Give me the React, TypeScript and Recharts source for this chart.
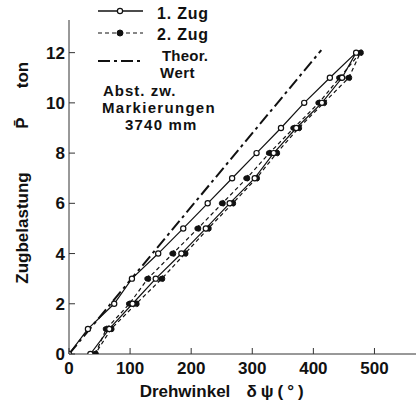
import React from 'react';
import { LineChart, Line, XAxis, YAxis, Legend } from 'recharts';

// Applied load steps (ton)
const LOAD_STEPS = [0, 1, 2, 3, 4, 5, 6, 7, 8, 9, 10, 11, 12];

// Twist angle δψ (°) per load step, loading and unloading branch
const ZUG1_LOADING = [0, 31, 74, 103, 146, 187, 227, 267, 307, 347, 385, 427, 470];
const ZUG1_UNLOADING = [35, 66, 104, 142, 184, 224, 263, 304, 335, 372, 414, 447, 470];
const ZUG2_LOADING = [43, 61, 99, 129, 170, 211, 251, 291, 328, 368, 409, 443, 477];
const ZUG2_UNLOADING = [43, 69, 110, 152, 190, 228, 268, 307, 340, 376, 417, 458, 477];

// Theoretical straight line
const THEOR_ANGLE = [0, 413];
const THEOR_LOAD = [0, 12.1];

const X_TICKS = [0, 100, 200, 300, 400, 500];
const Y_TICKS = [0, 2, 4, 6, 8, 10, 12];

const SERIES_NAMES = ['1. Zug', '2. Zug', 'Theor.', 'Wert'];
const NOTE_LINES = ['Abst. zw.', 'Markierungen', '3740 mm'];

const INK = '#111';
const FONT = "'Liberation Sans', Arial, sans-serif";

type Pt = { angle: number; load: number };

function hysteresisLoop(up: number[], down: number[]): Pt[] {
  const rising = LOAD_STEPS.map((load, i) => ({ angle: up[i], load }));
  const falling = LOAD_STEPS.slice(0, -1)
    .map((load, i) => ({ angle: down[i], load }))
    .reverse();
  return [...rising, ...falling];
}

const zug1 = hysteresisLoop(ZUG1_LOADING, ZUG1_UNLOADING);
const zug2 = hysteresisLoop(ZUG2_LOADING, ZUG2_UNLOADING);
const theor: Pt[] = THEOR_ANGLE.map((angle, i) => ({ angle, load: THEOR_LOAD[i] }));

const XTick = (props: any) => {
  const { x, y, payload } = props;
  return (
    <g>
      <line x1={x} y1={y} x2={x} y2={y - 6} stroke="#333" strokeWidth={1} />
      <text x={x} y={y + 19.5} textAnchor="middle" fontFamily={FONT} fontWeight="bold" fontSize={17} fill={INK}>
        {payload.value}
      </text>
    </g>
  );
};

const YTick = (props: any) => {
  const { x, y, payload } = props;
  return (
    <g>
      <line x1={x} y1={y} x2={x + 6} y2={y} stroke="#333" strokeWidth={1} />
      <text x={x - 4} y={y + 6} textAnchor="end" fontFamily={FONT} fontWeight="bold" fontSize={17} fill={INK}>
        {payload.value}
      </text>
    </g>
  );
};

const XAxisTitle = (props: any) => {
  const { viewBox } = props;
  const baseY = viewBox.y + 43;
  return (
    <g fontFamily={FONT} fontWeight="bold" fontSize={17} fill={INK}>
      <text x={viewBox.x + 116} y={baseY} textAnchor="middle">Drehwinkel</text>
      <text x={viewBox.x + 208} y={baseY} textAnchor="middle" letterSpacing={4}>δψ(°)</text>
    </g>
  );
};

const YAxisTitle = (props: any) => {
  const { viewBox } = props;
  const bx = viewBox.x + 10;
  const parts = [
    { text: 'Zugbelastung', cy: viewBox.y + 208 },
    { text: 'P\u0304', cy: viewBox.y + 103 },
    { text: 'ton', cy: viewBox.y + 55 },
  ];
  return (
    <g fontFamily={FONT} fontWeight="bold" fontSize={17} fill={INK}>
      {parts.map((p) => (
        <text key={p.text} x={bx} y={p.cy} textAnchor="middle" transform={`rotate(-90, ${bx}, ${p.cy})`}>
          {p.text}
        </text>
      ))}
    </g>
  );
};

const LegendBlock = () => (
  <svg width={150} height={135} style={{ display: 'block', overflow: 'visible' }}>
    <g stroke={INK} fill="none">
      <line x1={8} y1={11} x2={53} y2={11} strokeWidth={1.3} />
      <circle cx={30} cy={11} r={2.6} fill="#fff" strokeWidth={1.2} />
      <line x1={8} y1={33} x2={53} y2={33} strokeWidth={1.2} strokeDasharray="4 3" />
      <circle cx={30} cy={33} r={3} fill={INK} />
      <line x1={8} y1={61} x2={53} y2={61} strokeWidth={2} strokeDasharray="12 4 3 4" />
    </g>
    <g fontFamily={FONT} fontWeight="bold" fontSize={15} fill={INK}>
      <text x={67} y={19} fontSize={16} letterSpacing={0.8}>{SERIES_NAMES[0]}</text>
      <text x={67} y={40} fontSize={16} letterSpacing={0.8}>{SERIES_NAMES[1]}</text>
      <text x={72} y={61} letterSpacing={0.2}>{SERIES_NAMES[2]}</text>
      <text x={70} y={78} letterSpacing={0.5}>{SERIES_NAMES[3]}</text>
      <text x={13} y={96} letterSpacing={1}>{NOTE_LINES[0]}</text>
      <text x={12} y={113} letterSpacing={1.3}>{NOTE_LINES[1]}</text>
      <text x={35} y={130} letterSpacing={1.2}>{NOTE_LINES[2]}</text>
    </g>
  </svg>
);

export default function App() {
  return (
    <div style={{ position: 'absolute', left: 0, top: 0, background: '#fff' }}>
      <LineChart width={416} height={408} margin={{ top: 20, right: 0, bottom: 0, left: 18 }}>
        <XAxis
          type="number"
          dataKey="angle"
          domain={[0, 568]}
          ticks={X_TICKS}
          interval={0}
          height={54}
          tickSize={0}
          tickMargin={0}
          tickLine={false}
          axisLine={{ stroke: '#333', strokeWidth: 1 }}
          tick={<XTick />}
          label={<XAxisTitle />}
          allowDataOverflow
        />
        <YAxis
          type="number"
          dataKey="load"
          domain={[0, 13.3]}
          ticks={Y_TICKS}
          interval={0}
          width={51}
          tickSize={0}
          tickMargin={0}
          tickLine={false}
          axisLine={{ stroke: '#333', strokeWidth: 1 }}
          tick={<YTick />}
          label={<YAxisTitle />}
          allowDataOverflow
        />
        <Legend
          layout="horizontal"
          verticalAlign="middle"
          align="center"
          wrapperStyle={{ top: 0, left: 90, width: 150, height: 135 }}
          content={<LegendBlock />}
        />
        <Line
          name="Theor. Wert"
          data={theor}
          dataKey="load"
          stroke={INK}
          strokeWidth={2}
          strokeDasharray="12 4 3 4"
          dot={false}
          isAnimationActive={false}
        />
        <Line
          name="2. Zug"
          data={zug2}
          dataKey="load"
          stroke={INK}
          strokeWidth={1.2}
          strokeDasharray="4 3"
          dot={{ r: 3, fill: INK, stroke: INK, strokeWidth: 1 }}
          isAnimationActive={false}
        />
        <Line
          name="1. Zug"
          data={zug1}
          dataKey="load"
          stroke={INK}
          strokeWidth={1.2}
          dot={{ r: 2.6, fill: '#fff', stroke: INK, strokeWidth: 1.2 }}
          isAnimationActive={false}
        />
      </LineChart>
    </div>
  );
}
